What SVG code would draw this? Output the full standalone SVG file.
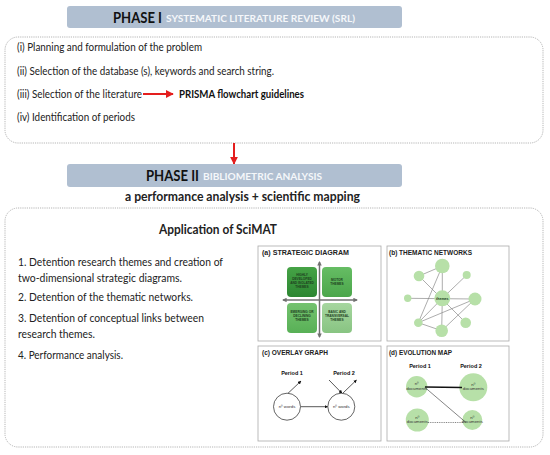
<svg xmlns="http://www.w3.org/2000/svg" width="550" height="455" viewBox="0 0 550 455">
<style>
.box{fill:none;stroke:#b5b5b5;stroke-width:1;stroke-dasharray:1.2 1}
.banner{fill:#b0bfd1}
.ph{font-family:Lato,"Liberation Sans",Arial,sans-serif;font-weight:bold;fill:#111}
.phs{font-family:Lato,"Liberation Sans",Arial,sans-serif;font-weight:bold;fill:#f5f7fa}
.t{font-family:Lato,"Liberation Sans",Arial,sans-serif;font-size:10.5px;fill:#222}
.tb{font-family:Lato,"Liberation Sans",Arial,sans-serif;font-size:10.5px;font-weight:bold;fill:#111}
.t2{font-family:Lato,"Liberation Sans",Arial,sans-serif;font-size:11.5px;fill:#222}
.h{font-family:Lato,"Liberation Sans",Arial,sans-serif;font-weight:bold;fill:#222}
.panel{fill:#fff;stroke:#aaa;stroke-width:0.8}
.pt{font-family:"Liberation Sans",Arial,sans-serif;font-size:6.5px;font-weight:bold;fill:#222}
.sq{font-family:"Liberation Sans",Arial,sans-serif;font-size:3.2px;font-weight:bold;fill:#1e3d1e;text-anchor:middle}
.node{fill:#b7e0a8}
.edge{stroke:#8a8a8a;stroke-width:0.7}
.per{font-family:"Liberation Sans",Arial,sans-serif;font-size:5.5px;font-weight:bold;fill:#111;text-anchor:middle}
.sm{font-family:"Liberation Sans",Arial,sans-serif;font-size:4.3px;fill:#333;text-anchor:middle}
.oc{fill:#fff;stroke:#222;stroke-width:0.7}
.arr{stroke:#111;stroke-width:0.7;fill:none}
.axis{stroke:#707070;stroke-width:1.5;fill:none}
</style>
<defs>
<marker id="redHead" viewBox="0 0 10 10" refX="9" refY="5" markerWidth="4" markerHeight="4" markerUnits="strokeWidth" orient="auto">
<path d="M0,0 L10,5 L0,10 z" fill="#e41e1e"/>
</marker>
<marker id="blkHead" viewBox="0 0 10 10" refX="9" refY="5" markerWidth="5" markerHeight="5" markerUnits="strokeWidth" orient="auto">
<path d="M0,0 L10,5 L0,10 z" fill="#111"/>
</marker>
<marker id="axHead" viewBox="0 0 10 10" refX="8" refY="5" markerWidth="3" markerHeight="3" markerUnits="strokeWidth" orient="auto-start-reverse">
<path d="M0,0 L10,5 L0,10 z" fill="#707070"/>
</marker>
<linearGradient id="g1" x1="0" y1="0" x2="0" y2="1"><stop offset="0" stop-color="#46a346"/><stop offset="1" stop-color="#2c8632"/></linearGradient>
<linearGradient id="g2" x1="0" y1="0" x2="0" y2="1"><stop offset="0" stop-color="#66bd64"/><stop offset="1" stop-color="#4ba64b"/></linearGradient>
<linearGradient id="g3" x1="0" y1="0" x2="0" y2="1"><stop offset="0" stop-color="#74c26f"/><stop offset="1" stop-color="#58b056"/></linearGradient>
<linearGradient id="g4" x1="0" y1="0" x2="0" y2="1"><stop offset="0" stop-color="#a6d69f"/><stop offset="1" stop-color="#88c482"/></linearGradient>
</defs>
<rect width="550" height="455" fill="#fff"/>

<g id="phase1-box">
<rect class="box" x="5" y="37" width="538" height="106" rx="13"/>
<text class="t" x="17" y="51" textLength="185" lengthAdjust="spacingAndGlyphs">(i) Planning and formulation of the problem</text>
<text class="t" x="17" y="75" textLength="257" lengthAdjust="spacingAndGlyphs">(ii) Selection of the database (s), keywords and search string.</text>
<text class="t" x="17" y="98" textLength="125" lengthAdjust="spacingAndGlyphs">(iii) Selection of the literature</text>
<text class="tb" x="179" y="98" textLength="125" lengthAdjust="spacingAndGlyphs">PRISMA flowchart guidelines</text>
<text class="t" x="17" y="121" textLength="118" lengthAdjust="spacingAndGlyphs">(iv) Identification of periods</text>
</g>

<g id="phase2-box">
<rect class="box" x="5" y="208" width="538" height="239" rx="13"/>
<text class="h" x="159" y="234" font-size="14" textLength="118" lengthAdjust="spacingAndGlyphs">Application of SciMAT</text>
<text class="t2" x="18" y="266" textLength="205" lengthAdjust="spacingAndGlyphs">1. Detention research themes and creation of</text>
<text class="t2" x="18" y="282" textLength="164" lengthAdjust="spacingAndGlyphs">two-dimensional strategic diagrams.</text>
<text class="t2" x="18" y="301" textLength="175" lengthAdjust="spacingAndGlyphs">2. Detention of the thematic networks.</text>
<text class="t2" x="18" y="322" textLength="186" lengthAdjust="spacingAndGlyphs">3. Detention of conceptual links between</text>
<text class="t2" x="18" y="338" textLength="77" lengthAdjust="spacingAndGlyphs">research themes.</text>
<text class="t2" x="18" y="359" textLength="105" lengthAdjust="spacingAndGlyphs">4. Performance analysis.</text>
</g>

<g id="connectors">
<line x1="143" y1="94" x2="173" y2="94" stroke="#e41e1e" stroke-width="2" marker-end="url(#redHead)"/>
<line x1="234" y1="143" x2="234" y2="164" stroke="#e41e1e" stroke-width="2" marker-end="url(#redHead)"/>
</g>

<g id="phase1-banner">
<rect class="banner" x="67" y="6" width="335" height="22" rx="3"/>
<text class="ph" x="113" y="23" font-size="16" textLength="49" lengthAdjust="spacingAndGlyphs">PHASE I</text>
<text class="phs" x="166" y="22" font-size="10" textLength="189" lengthAdjust="spacingAndGlyphs">SYSTEMATIC LITERATURE REVIEW (SRL)</text>
</g>

<g id="phase2-banner">
<rect class="banner" x="67" y="164" width="335" height="23" rx="3"/>
<text class="ph" x="146" y="181" font-size="16" textLength="53" lengthAdjust="spacingAndGlyphs">PHASE II</text>
<text class="phs" x="203" y="180" font-size="10" textLength="119" lengthAdjust="spacingAndGlyphs">BIBLIOMETRIC ANALYSIS</text>
</g>

<g id="subtitle">
<text class="h" x="125" y="201" font-size="13" textLength="235" lengthAdjust="spacingAndGlyphs">a performance analysis + scientific mapping</text>
</g>

<g id="panel-a">
<rect class="panel" x="258" y="246" width="123" height="95"/>
<text class="pt" x="262" y="255" textLength="87" lengthAdjust="spacingAndGlyphs">(a) STRATEGIC  DIAGRAM</text>
<rect x="287" y="267" width="30" height="30" rx="4" fill="url(#g1)"/>
<rect x="322" y="267" width="30" height="30" rx="4" fill="url(#g2)"/>
<rect x="287" y="303" width="30" height="30" rx="4" fill="url(#g3)"/>
<rect x="322" y="303" width="30" height="30" rx="4" fill="url(#g4)"/>
<line class="axis" x1="283" y1="300" x2="357" y2="300" marker-start="url(#axHead)" marker-end="url(#axHead)"/>
<line class="axis" x1="319.5" y1="262" x2="319.5" y2="337" marker-start="url(#axHead)" marker-end="url(#axHead)"/>
<text class="sq" x="302" y="276">HIGHLY</text>
<text class="sq" x="302" y="280">DEVELOPED</text>
<text class="sq" x="302" y="284">AND ISOLATED</text>
<text class="sq" x="302" y="288">THEMES</text>
<text class="sq" x="337" y="281">MOTOR</text>
<text class="sq" x="337" y="285">THEMES</text>
<text class="sq" x="302" y="313">EMERGING OR</text>
<text class="sq" x="302" y="317">DECLINING</text>
<text class="sq" x="302" y="321">THEMES</text>
<text class="sq" x="337" y="313">BASIC AND</text>
<text class="sq" x="337" y="317">TRANSVERSAL</text>
<text class="sq" x="337" y="321">THEMES</text>
</g>

<g id="panel-b">
<rect class="panel" x="387" y="246" width="122" height="95"/>
<text class="pt" x="389" y="255" textLength="83" lengthAdjust="spacingAndGlyphs">(b) THEMATIC NETWORKS</text>
<g id="network-edges">
<line class="edge" x1="419" y1="276" x2="442.3" y2="266"/>
<line class="edge" x1="442.3" y1="266" x2="442.3" y2="298.3"/>
<line class="edge" x1="442.3" y1="266" x2="418.3" y2="322.7"/>
<line class="edge" x1="419" y1="276" x2="465.7" y2="322.7"/>
<line class="edge" x1="466.7" y1="275" x2="442.3" y2="298.3"/>
<line class="edge" x1="407.7" y1="298.3" x2="475" y2="299"/>
<line class="edge" x1="442.3" y1="298.3" x2="441.7" y2="330.7"/>
<line class="edge" x1="442.3" y1="298.3" x2="418.3" y2="322.7"/>
<line class="edge" x1="418.3" y1="322.7" x2="475" y2="299"/>
<line class="edge" x1="418.3" y1="322.7" x2="441.7" y2="330.7"/>
<line class="edge" x1="441.7" y1="330.7" x2="475" y2="299"/>
</g>
<circle class="node" cx="442.3" cy="266" r="7.3"/>
<circle class="node" cx="419" cy="276" r="5.3"/>
<circle class="node" cx="466.7" cy="275" r="4"/>
<circle class="node" cx="407.7" cy="298.3" r="3.7"/>
<circle class="node" cx="442.3" cy="298.3" r="8"/>
<circle class="node" cx="475" cy="299" r="6.5"/>
<circle class="node" cx="418.3" cy="322.7" r="4.3"/>
<circle class="node" cx="441.7" cy="330.7" r="6.3"/>
<circle class="node" cx="465.7" cy="322.7" r="5.3"/>
<text x="442.3" y="300" font-family="Liberation Sans, Arial, sans-serif" font-size="3.6" font-weight="bold" fill="#1e3d1e" text-anchor="middle">themes</text>
</g>

<g id="panel-c">
<rect class="panel" x="258" y="346" width="123" height="95"/>
<text class="pt" x="262" y="355" textLength="66" lengthAdjust="spacingAndGlyphs">(c) OVERLAY GRAPH</text>
<text class="per" x="292" y="375">Period 1</text>
<text class="per" x="344" y="375">Period 2</text>
<g id="overlay-arrows">
<line class="arr" x1="300.7" y1="406.7" x2="327.7" y2="406.7" marker-end="url(#blkHead)"/>
<line class="arr" x1="288" y1="393.3" x2="301" y2="381" marker-end="url(#blkHead)"/>
<line class="arr" x1="329" y1="380" x2="342" y2="393.3" marker-end="url(#blkHead)"/>
<line class="arr" x1="342.5" y1="393.5" x2="356.5" y2="380" marker-end="url(#blkHead)"/>
</g>
<circle class="oc" cx="287" cy="406.7" r="13.5"/>
<circle class="oc" cx="341.3" cy="406.7" r="13.5"/>
<text class="sm" x="287" y="408.2">nº words</text>
<text class="sm" x="341.3" y="408.2">nº words</text>
</g>

<g id="panel-d">
<rect class="panel" x="387" y="346" width="122" height="95"/>
<text class="pt" x="389" y="355" textLength="63" lengthAdjust="spacingAndGlyphs">(d) EVOLUTION MAP</text>
<text class="per" x="420" y="368">Period 1</text>
<text class="per" x="471" y="368">Period 2</text>
<circle class="node" cx="416.7" cy="386.7" r="10.7"/>
<circle class="node" cx="473.3" cy="387.3" r="14"/>
<circle class="node" cx="417.3" cy="420" r="11.5"/>
<circle class="node" cx="472.3" cy="420" r="10"/>
<g id="evolution-links">
<line x1="425" y1="387" x2="462" y2="387.5" stroke="#111" stroke-width="1.3"/>
<line x1="425" y1="387.5" x2="466" y2="422.5" stroke="#333" stroke-width="0.6"/>
<line x1="428" y1="422.5" x2="463" y2="422.5" stroke="#333" stroke-width="0.6" stroke-dasharray="1 0.8"/>
</g>
<text class="sm" x="416.7" y="385">nº</text>
<text class="sm" x="416.7" y="389.5">documents</text>
<text class="sm" x="473.3" y="385.5">nº</text>
<text class="sm" x="473.3" y="390">documents</text>
<text class="sm" x="417.3" y="418.5">nº</text>
<text class="sm" x="417.3" y="423">documents</text>
<text class="sm" x="472.3" y="418.5">nº</text>
<text class="sm" x="472.3" y="423">documents</text>
</g>
</svg>
